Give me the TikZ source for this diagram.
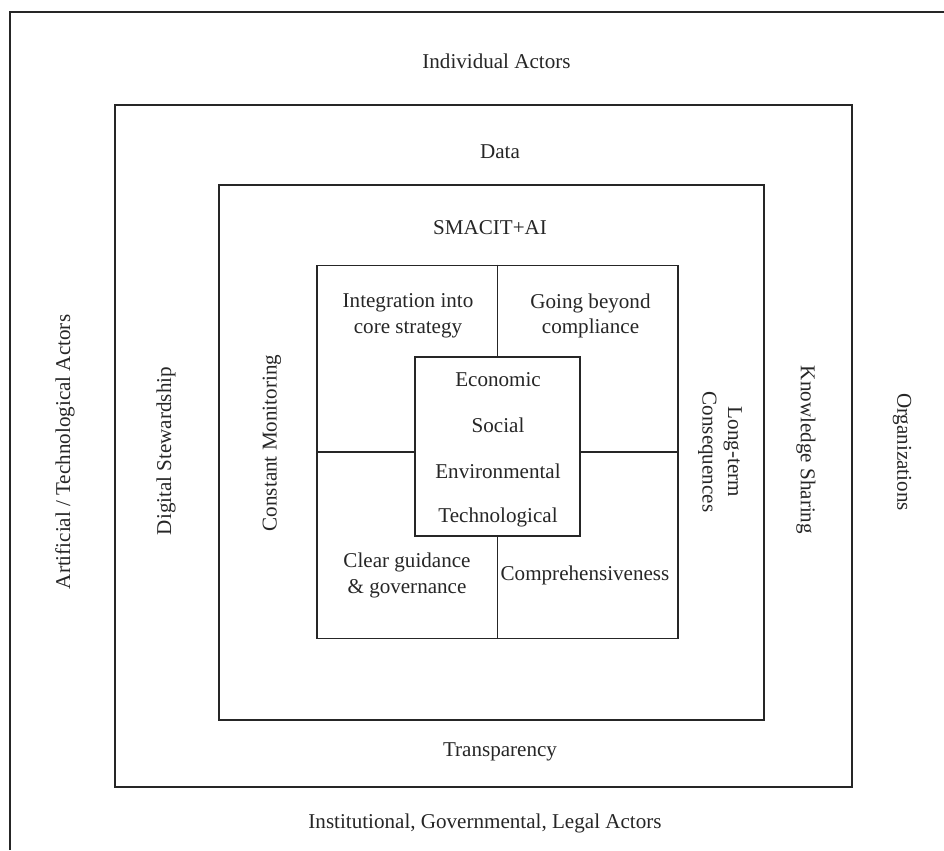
\documentclass[tikz,border=0pt]{standalone}
\usepackage{fontspec}
\setmainfont{Liberation Serif}
\usetikzlibrary{positioning}

\begin{document}
\begin{tikzpicture}
  [frm/.style={draw=black!85, line width=1pt, inner sep=0pt},
   lbl/.style={font=\fontsize{12}{14.6}\selectfont, align=center,
     inner sep=1pt, text=black!85},
   up/.style={lbl, rotate=90},
   down/.style={lbl, rotate=-90}]
  \useasboundingbox (0,0) rectangle (18.88,17);
  % outer frame, cut at the right and bottom
  \coordinate (fa) at (0.2,0);
  \coordinate (fb) at (18.88,16.76);
  \draw[black!85, line width=1pt] (fa) |- (fb);
  % nested boxes
  \node[frm, minimum width=14.74cm, minimum height=13.64cm] (b2) at (9.67,8.08) {};
  \node[frm, minimum width=10.9cm, minimum height=10.7cm] (b3) at (9.83,7.95) {};
  \node[frm, minimum width=7.22cm, minimum height=7.46cm] (quad) at (9.95,7.96) {};
  \node[frm, minimum width=3.3cm, minimum height=3.58cm, fill=white] (core) at (9.95,8.07) {};
  \draw[black!85, line width=1pt] (quad.north) -- (core.north);
  \draw[black!85, line width=1pt] (core.south) -- (quad.south);
  \draw[black!85, line width=1pt] (quad.west) -- (core.west |- quad.west);
  \draw[black!85, line width=1pt] (core.east |- quad.east) -- (quad.east);
  % actors
  \node[lbl] (ind) at (9.93,15.78) {Individual Actors};
  \node[lbl] (inst) at (9.7,0.54) {Institutional, Governmental, Legal Actors};
  \node[up] (art) at (1.3,7.96) {Artificial / Technological Actors};
  \node[down] (org) at (18.04,7.96) {Organizations};
  % second ring
  \node[lbl] (data) at (10.0,13.96) {Data};
  \node[lbl] (trans) at (10.0,1.96) {Transparency};
  \node[up] (stew) at (3.32,7.98) {Digital Stewardship};
  \node[down] (know) at (16.12,8.0) {Knowledge Sharing};
  % third ring
  \node[lbl] (smac) at (9.8,12.44) {SMACIT+AI};
  \node[up] (mon) at (5.44,8.14) {Constant Monitoring};
  \node[down] (long) at (14.4,7.96) {Long-term\\Consequences};
  % quadrants
  \node[lbl] (integ) at (8.16,10.68) {Integration into\\core strategy};
  \node[lbl] (beyond) at (11.81,10.68) {Going beyond\\compliance};
  \node[lbl] (clear) at (8.14,5.49) {Clear guidance\\\& governance};
  \node[lbl] (comp) at (11.7,5.5) {Comprehensiveness};
  % core
  \node[lbl] (eco) at (9.96,9.4) {Economic};
  \node[lbl] (soc) at (9.96,8.5) {Social};
  \node[lbl] (env) at (9.96,7.58) {Environmental};
  \node[lbl] (tech) at (9.96,6.66) {Technological};
\end{tikzpicture}
\end{document}
